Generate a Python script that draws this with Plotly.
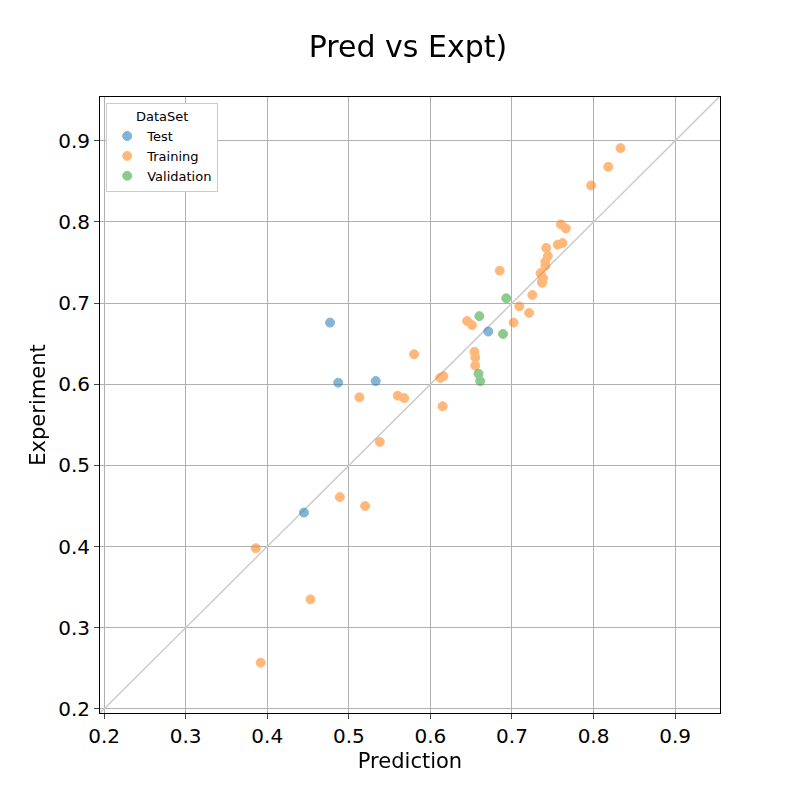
import plotly.graph_objects as go

test_x = [0.477, 0.487, 0.533, 0.445, 0.671]
test_y = [0.676, 0.602, 0.604, 0.442, 0.665]

train_x = [0.833, 0.818, 0.797, 0.760, 0.766, 0.762, 0.756, 0.742, 0.744, 0.741, 0.741,
           0.735, 0.738, 0.737, 0.737, 0.685, 0.725, 0.709, 0.721, 0.702, 0.645, 0.651,
           0.654, 0.655, 0.655, 0.580, 0.612, 0.616, 0.615, 0.560, 0.568, 0.513, 0.538,
           0.489, 0.520, 0.386, 0.453, 0.392]
train_y = [0.891, 0.868, 0.845, 0.797, 0.792, 0.774, 0.772, 0.768, 0.758, 0.751, 0.746,
           0.737, 0.731, 0.727, 0.725, 0.740, 0.710, 0.696, 0.688, 0.676, 0.678, 0.673,
           0.640, 0.633, 0.623, 0.637, 0.608, 0.610, 0.573, 0.586, 0.583, 0.584, 0.529,
           0.461, 0.450, 0.398, 0.335, 0.257]

val_x = [0.693, 0.660, 0.689, 0.659, 0.661]
val_y = [0.706, 0.684, 0.662, 0.613, 0.604]

diag = [0.19, 0.96]
xr = [0.195, 0.955]
yr = [0.195, 0.954]

fig = go.Figure()
fig.add_trace(go.Scatter(x=diag, y=diag, mode="lines", line=dict(color="#cccccc", width=1.5),
                         showlegend=False, hoverinfo="skip"))
for name, xs, ys, c in [("Test", test_x, test_y, "#1f77b4"),
                        ("Training", train_x, train_y, "#ff7f0e"),
                        ("Validation", val_x, val_y, "#2ca02c")]:
    fig.add_trace(go.Scatter(x=xs, y=ys, mode="markers", name=name, opacity=0.55,
                             marker=dict(color=c, size=9, line=dict(color=c, width=1))))

axis = dict(showgrid=True, gridcolor="#b0b0b0", gridwidth=0.8, dtick=0.1, tick0=0.2,
            showline=True, linecolor="black", mirror=True, ticks="outside",
            tickfont=dict(size=20, color="black"), zeroline=False)
fig.update_xaxes(range=xr, title=dict(text="Prediction", font=dict(size=21, color="black"), standoff=6), **axis)
fig.update_yaxes(range=yr, title=dict(text="Experiment", font=dict(size=21, color="black"), standoff=6), **axis)
fig.update_layout(
    width=800, height=800, plot_bgcolor="white", paper_bgcolor="white",
    font=dict(family="DejaVu Sans", color="black"),
    title=dict(text="Pred vs Expt)", x=0.5, y=0.965, xanchor="center", font=dict(size=30, color="black")),
    margin=dict(l=92, r=88, t=89, b=95),
    legend=dict(title=dict(text="DataSet", side="top center", font=dict(size=13)), x=0.01, y=0.99,
                xanchor="left", yanchor="top",
                bordercolor="#cccccc", borderwidth=1, bgcolor="white", font=dict(size=13, color="black")),
)
fig.write_html("out.html")
